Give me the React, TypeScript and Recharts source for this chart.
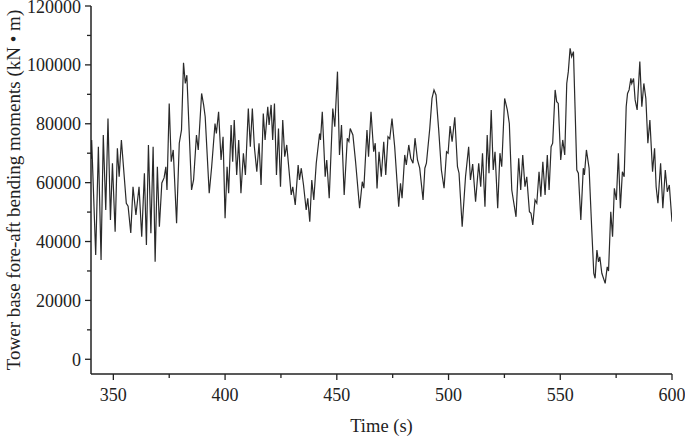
import React from 'react';
import { LineChart, Line, XAxis, YAxis, Label } from 'recharts';

const times: number[] = [
  340.0, 340.3, 342.1, 343.3, 344.5, 345.5, 346.6, 347.6, 348.7, 349.6, 350.8, 351.8, 352.6, 353.6, 355.8, 356.6, 357.8, 358.8, 360.1, 361.5,
  362.7, 363.9, 364.8, 365.7, 366.8, 367.8, 368.7, 369.7, 370.6, 371.7, 372.7, 373.5, 374.0, 375.0, 375.9, 376.8, 378.3, 379.5, 380.5, 381.4,
  382.2, 382.9, 385.0, 385.9, 387.2, 388.0, 389.5, 390.4, 391.1, 392.9, 394.0, 395.5, 396.1, 397.1, 398.2, 399.1, 400.0, 400.9, 401.6, 402.7,
  403.4, 404.1, 405.2, 406.1, 407.1, 408.2, 409.1, 410.4, 411.3, 412.2, 413.1, 414.2, 415.2, 416.1, 417.1, 417.9, 419.1, 419.7, 420.6, 421.3,
  422.1, 423.0, 423.9, 424.8, 425.8, 426.7, 427.6, 429.6, 430.3, 431.4, 432.7, 433.3, 434.1, 435.1, 436.3, 437.0, 437.9, 438.8, 439.7, 440.8,
  442.3, 442.7, 443.5, 444.8, 445.5, 446.6, 448.2, 449.1, 450.3, 451.2, 452.1, 453.3, 454.7, 455.4, 456.0, 457.2, 458.4, 460.2, 461.4, 462.1,
  463.5, 464.2, 465.3, 466.5, 467.2, 468.0, 468.9, 469.9, 471.0, 471.9, 472.9, 473.7, 474.7, 475.9, 477.7, 478.5, 479.2, 480.4, 481.1, 482.2,
  483.1, 484.1, 485.0, 486.1, 487.1, 488.6, 489.4, 490.1, 491.6, 492.6, 493.5, 494.4, 495.6, 496.8, 498.0, 499.1, 499.8, 500.7, 501.6, 502.8,
  504.0, 504.7, 506.1, 507.6, 509.0, 509.8, 510.8, 512.1, 513.5, 514.4, 515.2, 516.3, 517.3, 518.1, 519.1, 520.0, 520.8, 522.0, 523.0, 523.8,
  525.1, 526.3, 527.2, 528.3, 529.0, 530.2, 531.4, 532.3, 533.2, 534.2, 535.0, 536.2, 536.9, 537.7, 538.7, 539.5, 540.5, 541.3, 542.2, 543.2,
  544.2, 545.0, 545.9, 546.6, 547.7, 548.4, 549.1, 550.2, 551.1, 552.0, 552.9, 553.6, 554.4, 555.1, 555.9, 556.6, 557.4, 558.1, 559.2, 560.3,
  560.8, 561.7, 562.9, 564.1, 565.0, 565.6, 566.4, 567.1, 567.7, 568.6, 570.1, 571.0, 571.6, 572.6, 573.4, 574.2, 575.1, 576.0, 576.9, 577.8,
  578.6, 579.5, 580.1, 580.8, 581.6, 582.0, 582.8, 583.5, 584.4, 585.6, 586.5, 587.4, 588.3, 589.2, 590.1, 591.3, 592.2, 592.9, 593.7, 594.9,
  595.9, 597.0, 597.9, 598.8, 600.0,
];

const moments: number[] = [
  68000, 74500, 35400, 72200, 33700, 76200, 50700, 81800, 47300, 66600, 43300, 71700, 62000, 74500, 53000, 52000, 42900, 58600, 49000, 58600,
  41600, 63200, 38800, 72800, 42800, 72200, 33100, 65400, 45000, 59900, 61600, 65400, 57500, 86900, 67100, 71100, 46200, 73400, 77900, 100700,
  93700, 96500, 57500, 60900, 76200, 71100, 90300, 86400, 82400, 56400, 65400, 80100, 76700, 84100, 67700, 75600, 47900, 65400, 56400, 79600,
  67100, 81300, 62600, 74500, 56400, 70000, 62600, 85200, 72200, 85200, 72200, 63700, 73400, 59200, 83500, 74500, 85800, 79600, 86400, 74500,
  86900, 62600, 78400, 58600, 81300, 68800, 72800, 55800, 58600, 52400, 66000, 60900, 64900, 59200, 50700, 54700, 46700, 60900, 54100, 66600,
  76700, 74500, 84100, 62000, 67700, 54700, 85200, 79000, 97700, 69400, 79600, 55800, 75100, 74000, 78400, 76200, 67100, 51300, 60300, 58100,
  77900, 68800, 84100, 70500, 73400, 58000, 70500, 62000, 73900, 62600, 75600, 74900, 81800, 72200, 51800, 59800, 54700, 69400, 66000, 72800,
  68300, 66600, 75100, 67700, 64900, 54100, 64900, 66600, 78400, 88600, 91500, 89800, 77900, 64300, 58100, 70500, 70000, 79200, 73900, 82200,
  65400, 63200, 45000, 62000, 72200, 60900, 66300, 53500, 66600, 58600, 70000, 51800, 76200, 63200, 84700, 64300, 70500, 51300, 70000, 65400,
  88600, 84700, 80100, 57500, 54100, 48400, 68300, 57500, 69400, 58600, 62000, 50100, 49600, 45600, 54100, 53000, 63700, 55200, 67100, 55800,
  69400, 57500, 72200, 73400, 91500, 87500, 86900, 67700, 74500, 69400, 93700, 97700, 105600, 102800, 104500, 85800, 64300, 63200, 47300, 64900,
  62600, 71100, 64900, 43900, 29200, 27500, 37100, 33100, 34800, 29200, 25800, 31400, 30000, 50100, 41600, 58100, 54100, 70000, 51300, 63700,
  62000, 85800, 90300, 91500, 95400, 93700, 95400, 88100, 84700, 101100, 85800, 93700, 88600, 73400, 81300, 63700, 71700, 58600, 53000, 66600,
  51300, 64300, 56900, 59200, 46700,
];

const xTicks: number[] = [350, 375, 400, 425, 450, 475, 500, 525, 550, 575, 600];
const yTicks: number[] = [0, 10000, 20000, 30000, 40000, 50000, 60000, 70000, 80000, 90000, 100000, 110000, 120000];

const data = times.map((t, i) => ({ t, v: moments[i] }));

const FONT = '"Liberation Serif", "Times New Roman", serif';
const INK = '#222';

const XTick = (props: any) => {
  const { x, y, payload } = props;
  const major = payload.value % 50 === 0;
  return (
    <g>
      <line x1={x} y1={y} x2={x} y2={y + (major ? 6 : 4)} stroke={INK} strokeWidth={1.3} />
      {major && (
        <text x={x} y={y + 27} textAnchor="middle" fontFamily={FONT} fontSize={18} fill={INK}>
          {payload.value}
        </text>
      )}
    </g>
  );
};

const YTick = (props: any) => {
  const { x, y, payload } = props;
  const major = payload.value % 20000 === 0;
  return (
    <g>
      <line x1={x} y1={y} x2={x - (major ? 6 : 4)} y2={y} stroke={INK} strokeWidth={1.3} />
      {major && (
        <text x={x - 10} y={y + 6.5} textAnchor="end" fontFamily={FONT} fontSize={18} fill={INK}>
          {payload.value}
        </text>
      )}
    </g>
  );
};

export default function App() {
  return (
    <div style={{ position: 'absolute', left: 0, top: 0, background: '#fff' }}>
      <LineChart width={685} height={437} data={data} margin={{ top: 6, right: 13, bottom: 0, left: 0 }}>
        <XAxis
          dataKey="t"
          type="number"
          domain={[340, 600]}
          ticks={xTicks}
          interval={0}
          tickLine={false}
          tickSize={0}
          tickMargin={0}
          tick={<XTick />}
          height={63}
          axisLine={{ stroke: INK, strokeWidth: 1.5 }}
          allowDataOverflow
        >
          <Label value="Time (s)" position="center" dy={20} style={{ fontFamily: FONT, fontSize: 18.5, fill: INK }} />
        </XAxis>
        <YAxis
          type="number"
          domain={[-5000, 120000]}
          ticks={yTicks}
          interval={0}
          tickLine={false}
          tickSize={0}
          tickMargin={0}
          tick={<YTick />}
          width={91}
          axisLine={{ stroke: INK, strokeWidth: 1.5 }}
          allowDataOverflow
        >
          <Label
            value="Tower base fore-aft bending moments (kN • m)"
            angle={-90}
            position="center"
            dx={-32}
            style={{ fontFamily: FONT, fontSize: 19, fill: INK, textAnchor: 'middle' }}
          />
        </YAxis>
        <Line
          type="linear"
          dataKey="v"
          stroke="#2a2a2a"
          strokeWidth={1.2}
          dot={false}
          isAnimationActive={false}
        />
      </LineChart>
    </div>
  );
}
